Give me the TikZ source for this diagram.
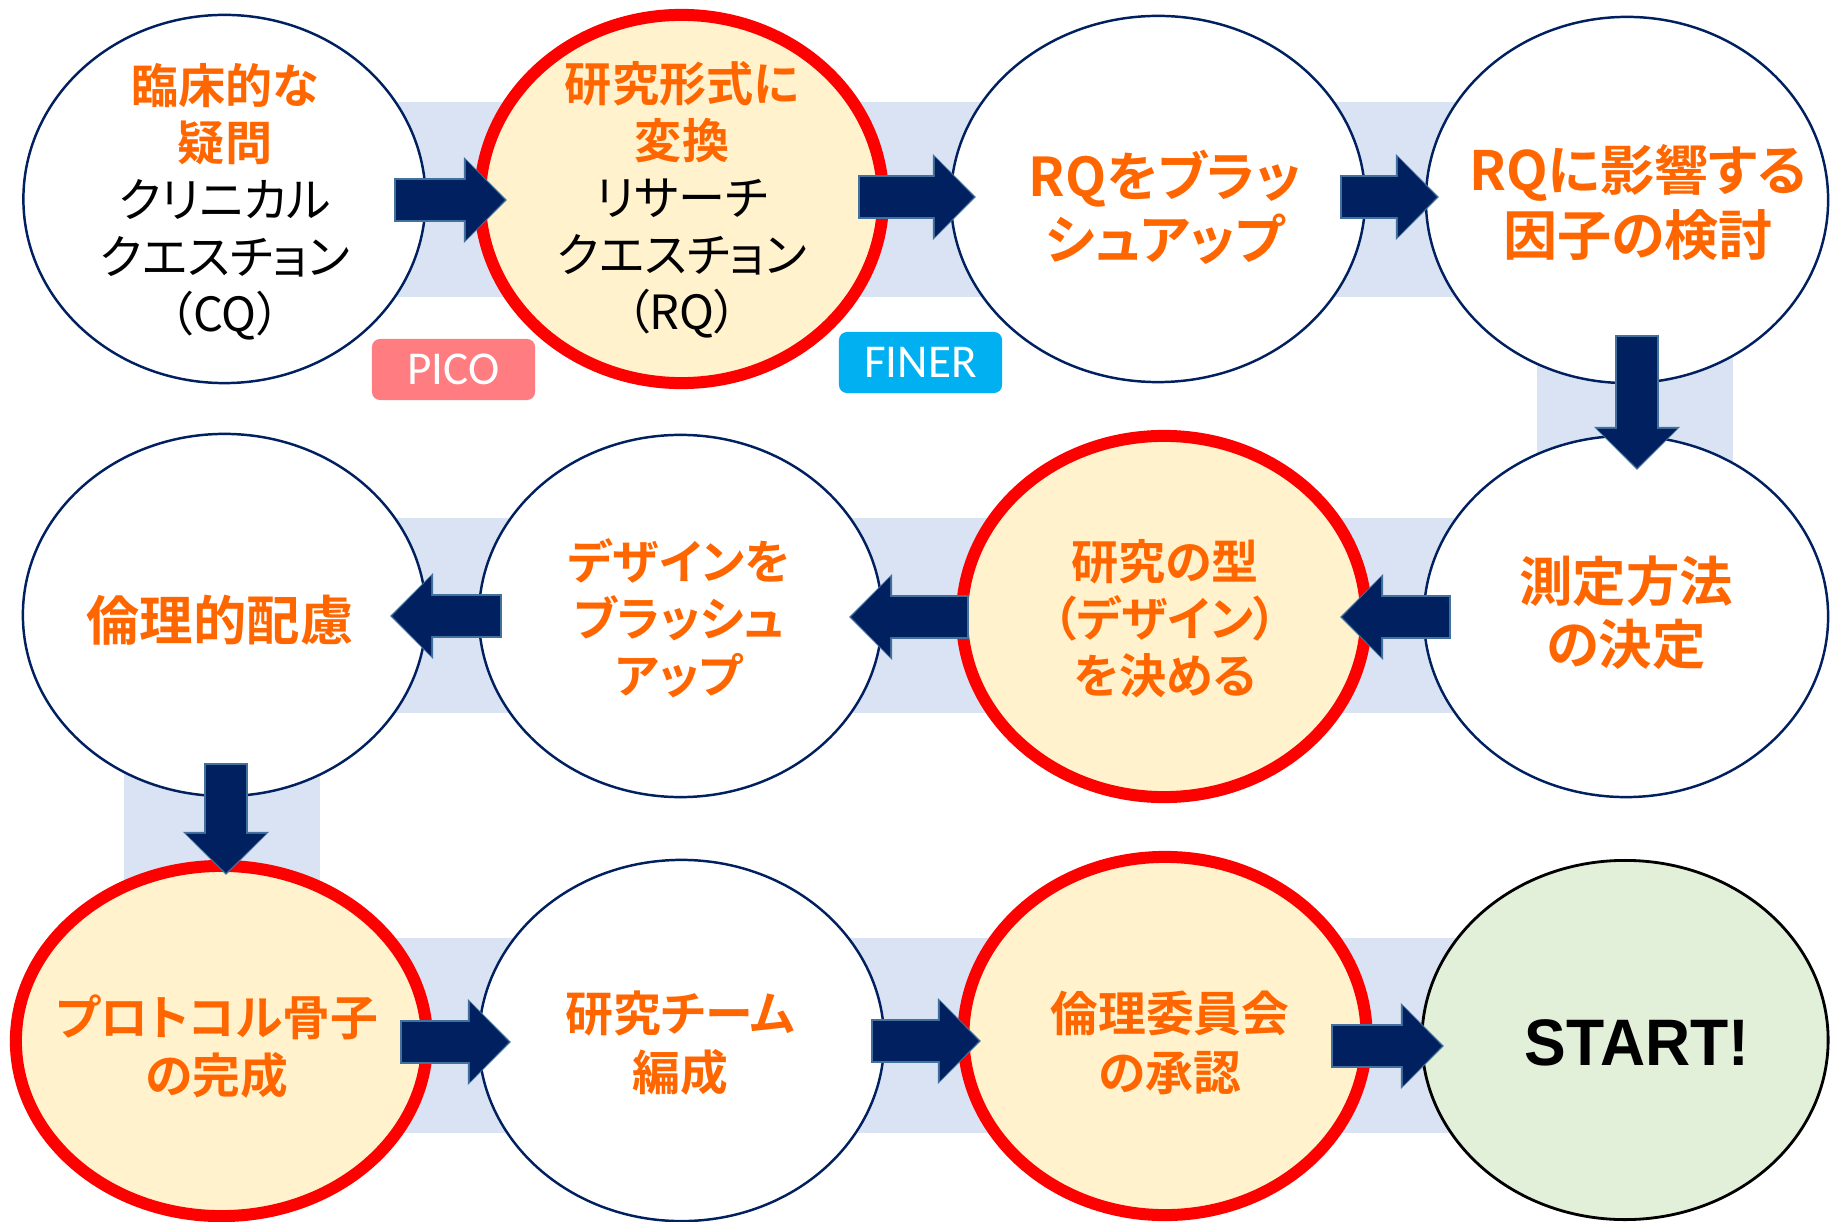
\documentclass[tikz,border=0pt]{standalone}
\usepackage{fontspec}
\newfontfamily\jp{Noto Sans CJK JP}[RawFeature=+palt,BoldFont=* Bold]
\newfontfamily\lsans{Liberation Sans}
\newfontfamily\carl{Carlito}
\usetikzlibrary{shapes.geometric,arrows.meta,calc}
\definecolor{navy}{RGB}{0,32,96}
\definecolor{aout}{RGB}{65,113,156}
\definecolor{bandc}{RGB}{218,227,243}
\definecolor{orng}{RGB}{255,102,0}
\definecolor{cream}{RGB}{255,242,204}
\definecolor{lgreen}{RGB}{226,240,217}
\definecolor{picoc}{RGB}{255,124,128}
\definecolor{finerc}{RGB}{0,176,240}
\begin{document}
\begin{tikzpicture}[x=0.01cm,y=-0.01cm,
  ell/.style={ellipse, inner sep=0pt, outer sep=0pt, fill=white, draw=navy, line width=0.7pt},
  hot/.style={ellipse, inner sep=0pt, outer sep=0pt, fill=cream, draw=red, line width=0.12cm},
  goal/.style={ellipse, inner sep=0pt, outer sep=0pt, fill=lgreen, draw=black, line width=0.8pt},
  lbl/.style={align=center, inner sep=0pt, text=orng},
  fA/.style={font=\jp\bfseries\fontsize{13.4pt}{16.2pt}\selectfont},
  fB/.style={font=\jp\bfseries\fontsize{15.2pt}{17.8pt}\selectfont},
  fC/.style={font=\jp\bfseries\fontsize{15.4pt}{18.4pt}\selectfont},
  fD/.style={font=\jp\bfseries\fontsize{13.6pt}{16.6pt}\selectfont},
  blk/.style={draw=navy, line width=0.40cm,
    -{Triangle[length=0.39cm,width=0.80cm,line width=0pt]},
    preaction={draw=aout, line width=0.44cm,
      -{Triangle[length=0.43cm,width=0.86cm,line width=0pt]},
      shorten >=-0.02cm, shorten <=-0.02cm}},
  tag/.style={rounded corners=0.08cm, minimum width=1.63cm, minimum height=0.61cm,
    inner sep=0pt, text=white, font=\carl\fontsize{13.4pt}{16pt}\selectfont}
]
\useasboundingbox (0,0) rectangle (1831,1222);
% background band
\draw[line width=1.95cm, bandc, line join=miter]
  (224,199.5) -- (1635,199.5) -- (1635,615.5) -- (222,615.5) -- (222,1035.5) -- (1625,1035.5);

% ellipses
\node[ell, minimum width=4.02cm, minimum height=3.68cm] (e1) at (224.5,199) {};
\node[hot, minimum width=4.03cm, minimum height=3.68cm] (e2) at (681.5,199) {};
\node[ell, minimum width=4.14cm, minimum height=3.66cm] (e3) at (1158,199) {};
\node[ell, minimum width=4.02cm, minimum height=3.66cm] (e4) at (1627,200) {};
\node[ell, minimum width=4.03cm, minimum height=3.62cm] (e5) at (224.5,615) {};
\node[ell, minimum width=4.03cm, minimum height=3.62cm] (e6) at (680.5,616) {};
\node[hot, minimum width=4.04cm, minimum height=3.61cm] (e7) at (1164,616.5) {};
\node[ell, minimum width=4.04cm, minimum height=3.61cm] (e8) at (1626,616.5) {};
\node[hot, minimum width=4.11cm, minimum height=3.50cm] (e9) at (221.5,1041) {};
\node[ell, minimum width=4.05cm, minimum height=3.61cm] (e10) at (681.5,1040.5) {};
\node[hot, minimum width=4.03cm, minimum height=3.58cm] (e11) at (1165,1036) {};
\node[goal, minimum width=4.06cm, minimum height=3.59cm] (e12) at (1625,1040) {};

% texts
\node[lbl, fA] (t1) at ($(e1)+(0.5,2.5)$) {臨床的な\\疑問\\{\mdseries\color{black}クリニカル}\\{\mdseries\color{black}クエスチョン}\\{\mdseries\color{black}（CQ）}};
\node[lbl, fA] (t2) at ($(e2)+(0.5,1)$) {研究形式に\\変換\\{\mdseries\color{black}リサーチ}\\{\mdseries\color{black}クエスチョン}\\{\mdseries\color{black}（RQ）}};
\node[lbl, fB] (t3) at ($(e3)+(7,8.5)$) {RQをブラッ\\シュアップ};
\node[lbl, fC] (t4) at ($(e4)+(11,2.5)$) {RQに影響する\\因子の検討};
\node[lbl, fB] (t5) at ($(e5)+(-4.5,5)$) {倫理的配慮};
\node[lbl, fA] (t6) at ($(e6)+(-1.5,2)$) {デザインを\\ブラッシュ\\アップ};
\node[lbl, fA] (t7) at ($(e7)+(1,2.5)$) {研究の型\\（デザイン）\\を決める};
\node[lbl, fB] (t8) at ($(e8)+(0,-3.5)$) {測定方法\\の決定};
\node[lbl, fD] (t9) at ($(e9)+(-4.5,5.5)$) {プロトコル骨子\\の完成};
\node[lbl, fD] (t10) at ($(e10)+(-1.5,2.5)$) {研究チーム\\編成};
\node[lbl, fD] (t11) at ($(e11)+(5,7)$) {倫理委員会\\の承認};
\node[inner sep=0pt, xscale=0.95, font=\lsans\bfseries\fontsize{18.7pt}{21pt}\selectfont] (t12) at ($(e12)+(12,3)$) {START!};

% tags
\node[tag, fill=picoc] (pico) at (453.5,369.5) {PICO};
\node[tag, fill=finerc] (finer) at (920.5,362.5) {FINER};

% block arrows
\draw[blk] ($(e1.east)+(-29.5,1)$) -- ($(e2.west)+(25,1)$);
\draw[blk] ($(e2.east)+(-23,-2)$) -- ($(e3.west)+(23,-2)$);
\draw[blk] ($(e3.east)+(-23,-2)$) -- ($(e4.west)+(11,-3)$);
\draw[blk] ($(e4.south)+(10,-46.5)$) -- ($(e8.north)+(11,32)$);
\draw[blk] ($(e8.west)+(25,0.5)$) -- ($(e7.east)+(-24,0.5)$);
\draw[blk] ($(e7.west)+(5,0.5)$) -- ($(e6.east)+(-31,1)$);
\draw[blk] ($(e6.west)+(21,0)$) -- ($(e5.east)+(-34,1)$);
\draw[blk] ($(e5.south)+(1.5,-31)$) -- ($(e9.north)+(4.5,7)$);
\draw[blk] ($(e9.east)+(-25,1)$) -- ($(e10.west)+(30,1.5)$);
\draw[blk] ($(e10.east)+(-11,0.5)$) -- ($(e11.west)+(15.5,5)$);
\draw[blk] ($(e11.east)+(-33.5,10)$) -- ($(e12.west)+(20,6)$);
\end{tikzpicture}
\end{document}
